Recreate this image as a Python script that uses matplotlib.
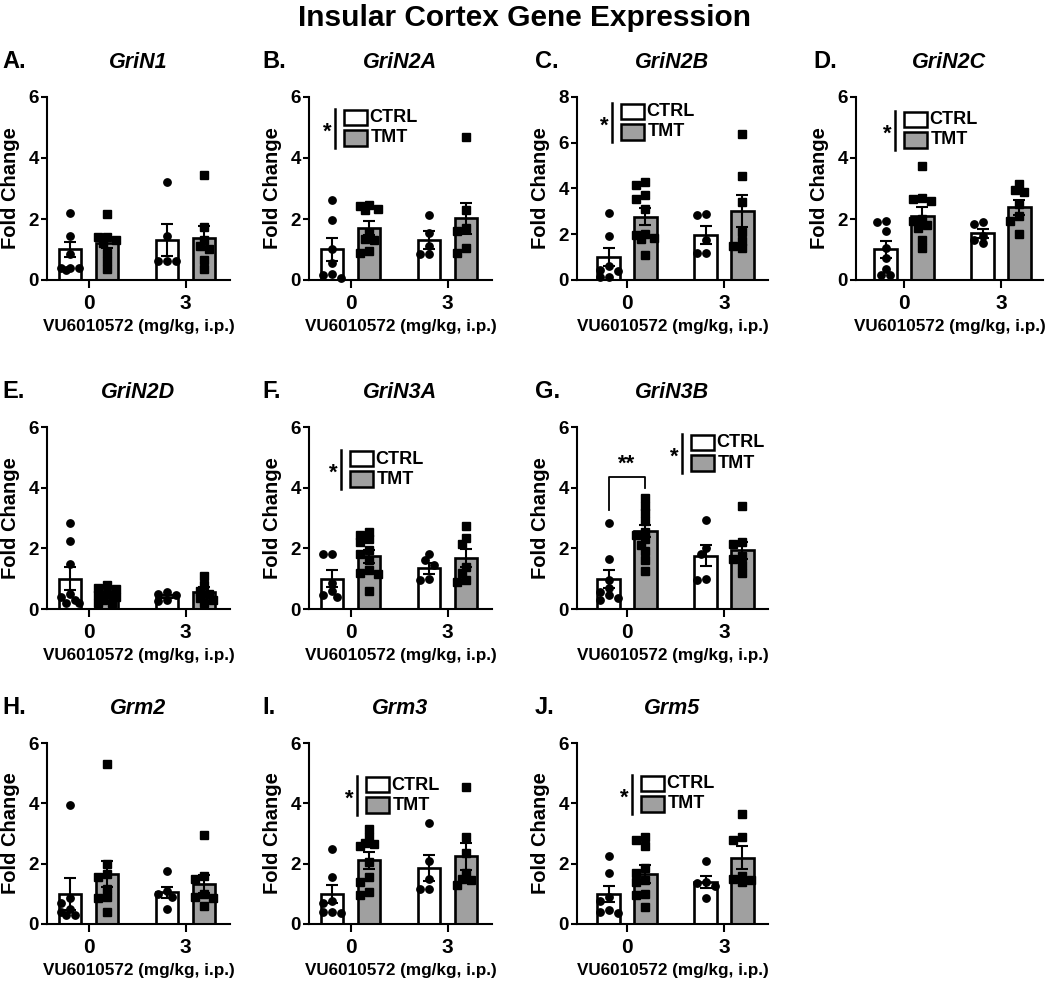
import numpy as np
import matplotlib
matplotlib.use("Agg")
import matplotlib.pyplot as plt
from matplotlib.patches import Rectangle
from matplotlib.lines import Line2D

plt.rcParams["font.family"] = ["Liberation Sans", "DejaVu Sans"]
plt.rcParams["font.weight"] = "bold"

W, H = 1050, 983
GRAY = "#a0a0a0"

# ---------------------------------------------------------------- data
doses = ["0", "3"]
groups = ["CTRL", "TMT"]
genes = ["GriN1", "GriN2A", "GriN2B", "GriN2C", "GriN2D",
         "GriN3A", "GriN3B", "Grm2", "Grm3", "Grm5"]
letters = ["A.", "B.", "C.", "D.", "E.", "F.", "G.", "H.", "I.", "J."]

# order in each list: CTRL 0, TMT 0, CTRL 3, TMT 3
grin1_mean = [1.0, 1.2, 1.31, 1.37]
grin1_sem = [0.25, 0.16, 0.52, 0.40]
grin1_pts = [[2.21, 1.45, 0.85, 0.38, 0.38, 0.40, 0.33],
             [2.16, 1.42, 1.40, 1.32, 1.20, 0.90, 0.62, 0.35],
             [3.21, 1.45, 0.62, 0.62, 0.62],
             [3.45, 1.75, 1.30, 1.10, 1.00, 0.65, 0.35]]

grin2a_mean = [1.0, 1.7, 1.3, 2.02]
grin2a_sem = [0.37, 0.22, 0.30, 0.50]
grin2a_pts = [[2.62, 1.97, 1.00, 0.55, 0.20, 0.15, 0.05],
              [2.45, 2.42, 2.32, 2.30, 1.55, 1.35, 1.30, 0.95, 0.88],
              [2.12, 1.55, 1.10, 0.85, 0.85],
              [4.69, 2.30, 1.70, 1.60, 1.05, 0.90]]

grin2b_mean = [1.0, 2.77, 1.98, 3.02]
grin2b_sem = [0.40, 0.38, 0.40, 0.70]
grin2b_pts = [[2.95, 1.94, 0.60, 0.45, 0.40, 0.15, 0.15],
              [4.30, 4.15, 3.70, 3.55, 3.10, 2.00, 1.95, 1.85, 1.80, 1.10],
              [2.90, 2.85, 1.75, 1.20, 1.20],
              [6.39, 4.55, 3.40, 2.10, 1.70, 1.50, 1.40]]

grin2c_mean = [1.0, 2.1, 1.53, 2.38]
grin2c_sem = [0.28, 0.28, 0.15, 0.25]
grin2c_pts = [[1.93, 1.90, 1.62, 1.05, 0.72, 0.35, 0.15, 0.15],
              [3.75, 2.70, 2.65, 2.60, 2.00, 1.95, 1.80, 1.70, 1.30, 1.05],
              [1.90, 1.85, 1.45, 1.30, 1.20],
              [3.15, 2.95, 2.90, 2.50, 2.10, 1.95, 1.50]]

grin2d_mean = [1.0, 0.47, 0.40, 0.56]
grin2d_sem = [0.37, 0.10, 0.05, 0.15]
grin2d_pts = [[2.84, 2.23, 1.50, 0.50, 0.40, 0.30, 0.20, 0.20],
              [0.80, 0.70, 0.65, 0.50, 0.45, 0.40, 0.30, 0.20, 0.20],
              [0.55, 0.50, 0.45, 0.30, 0.25],
              [1.10, 0.80, 0.60, 0.50, 0.35, 0.30, 0.20]]

grin3a_mean = [1.0, 1.74, 1.35, 1.68]
grin3a_sem = [0.28, 0.22, 0.18, 0.30]
grin3a_pts = [[1.81, 1.81, 0.85, 0.60, 0.45, 0.40],
              [2.55, 2.45, 2.30, 2.20, 1.95, 1.80, 1.60, 1.30, 1.20, 1.15, 0.60],
              [1.80, 1.60, 1.45, 1.00, 0.95],
              [2.75, 2.35, 2.15, 1.40, 1.20, 0.95, 0.90]]

grin3b_mean = [1.0, 2.56, 1.76, 1.93]
grin3b_sem = [0.30, 0.20, 0.35, 0.28]
grin3b_pts = [[2.85, 1.65, 0.95, 0.70, 0.55, 0.45, 0.35, 0.30],
              [3.65, 3.40, 3.15, 2.90, 2.55, 2.45, 2.30, 2.10, 1.90, 1.60, 1.25],
              [2.95, 2.00, 1.80, 1.00, 0.95],
              [3.40, 2.20, 2.15, 1.75, 1.65, 1.45, 1.20]]

grm2_mean = [1.0, 1.66, 1.05, 1.34]
grm2_sem = [0.52, 0.42, 0.18, 0.30]
grm2_pts = [[3.95, 0.85, 0.70, 0.50, 0.40, 0.30, 0.30],
            [5.30, 2.00, 1.65, 1.55, 1.15, 0.90, 0.85, 0.40],
            [1.75, 1.10, 1.00, 0.90, 0.50],
            [2.95, 1.58, 1.50, 1.00, 0.90, 0.85, 0.60]]

grm3_mean = [1.0, 2.11, 1.86, 2.24]
grm3_sem = [0.30, 0.28, 0.43, 0.44]
grm3_pts = [[2.50, 1.55, 0.75, 0.70, 0.40, 0.40, 0.35],
            [3.15, 2.90, 2.70, 2.65, 2.60, 2.05, 1.55, 1.40, 1.05, 0.95],
            [3.35, 2.10, 1.50, 1.15, 1.15],
            [4.55, 2.90, 2.35, 1.70, 1.50, 1.45, 1.30]]

grm5_mean = [1.0, 1.66, 1.38, 2.19]
grm5_sem = [0.27, 0.30, 0.20, 0.38]
grm5_pts = [[2.25, 1.70, 0.90, 0.75, 0.45, 0.40, 0.35],
            [2.90, 2.80, 2.60, 1.85, 1.70, 1.45, 1.40, 1.00, 0.95, 0.55],
            [2.10, 1.40, 1.35, 1.25, 0.85],
            [3.65, 2.90, 2.80, 1.60, 1.50, 1.45, 1.40]]

all_means = [grin1_mean, grin2a_mean, grin2b_mean, grin2c_mean, grin2d_mean,
             grin3a_mean, grin3b_mean, grm2_mean, grm3_mean, grm5_mean]
all_sems = [grin1_sem, grin2a_sem, grin2b_sem, grin2c_sem, grin2d_sem,
            grin3a_sem, grin3b_sem, grm2_sem, grm3_sem, grm5_sem]
all_pts = [grin1_pts, grin2a_pts, grin2b_pts, grin2c_pts, grin2d_pts,
           grin3a_pts, grin3b_pts, grm2_pts, grm3_pts, grm5_pts]
y_max = [6, 6, 8, 6, 6, 6, 6, 6, 6, 6]

# ---------------------------------------------------------------- layout (pixels)
cols = [(47, 183, -0.43), (309, 183, -0.43), (577, 191, -0.515), (856, 187, -0.495)]
rows = [(97, 183), (427, 182), (743, 181)]
cells = [(0, 0), (0, 1), (0, 2), (0, 3), (1, 0), (1, 1), (1, 2), (2, 0), (2, 1), (2, 2)]
letter_x = [2, 262, 535, 813]
# legend anchor (top of the vertical line) in figure pixels, None = no legend
legend_at = [None, (335, 109), (612, 103), (895, 111), None,
             (341, 450), (682, 434), None, (357, 776), (632, 775)]
GROUP_PX = 97.0


def spread(vals, ppu, step=4.5, mindist=6.8):
    # simple deterministic swarm so markers don't sit on top of each other
    placed, offs = [], []
    cands = [0, -step, step, -2 * step, 2 * step]
    for v in vals:
        y = v * ppu
        best, best_d = 0, -1
        for c in cands:
            d = min([np.hypot(c - px, y - py) for px, py in placed], default=99)
            if d >= mindist:
                best = c
                break
            if d > best_d:
                best, best_d = c, d
        placed.append((best, y))
        offs.append(best / GROUP_PX)
    return offs


def draw_legend(fig, lx, ly):
    tf = fig.transFigure
    fig.add_artist(Line2D([lx / W, lx / W], [1 - ly / H, 1 - (ly + 39) / H],
                          color="black", lw=1.8, transform=tf))
    fig.text((lx - 8) / W, 1 - (ly + 23) / H, "*", ha="center", va="center", fontsize=16)
    fig.add_artist(Rectangle(((lx + 9) / W, 1 - (ly + 16) / H), 23 / W, 15 / H,
                             fc="white", ec="black", lw=1.8, transform=tf))
    fig.add_artist(Rectangle(((lx + 9) / W, 1 - (ly + 37) / H), 23 / W, 16 / H,
                             fc=GRAY, ec="black", lw=1.8, transform=tf))
    fig.text((lx + 34) / W, 1 - (ly + 9) / H, "CTRL", va="center", fontsize=13)
    fig.text((lx + 36) / W, 1 - (ly + 29) / H, "TMT", va="center", fontsize=13)


fig = plt.figure(figsize=(W / 100, H / 100), dpi=100)
fig.text(0.5, 1 - 18 / H, "Insular Cortex Gene Expression", ha="center", va="center",
         fontsize=21.5, fontweight="bold")

for i, gene in enumerate(genes):
    r, c = cells[i]
    left, width, xmin = cols[c]
    top, height = rows[r]
    ax = fig.add_axes([left / W, 1 - (top + height) / H, width / W, height / H])
    ymax = y_max[i]
    ppu = height / ymax

    for g in range(4):
        dose = g // 2
        is_tmt = g % 2 == 1
        xc = dose + (0.19 if is_tmt else -0.19)
        ax.bar(xc, all_means[i][g], width=0.23, color=GRAY if is_tmt else "white",
               edgecolor="black", linewidth=1.9, zorder=2)
        ax.errorbar(xc, all_means[i][g], yerr=all_sems[i][g], fmt="none", ecolor="black",
                    elinewidth=1.5, capsize=4, capthick=1.5, zorder=3)
        vals = all_pts[i][g]
        offs = spread(vals, ppu)
        ax.plot(xc + np.array(offs), vals, linestyle="none",
                marker="s" if is_tmt else "o", markersize=5.3, color="black",
                zorder=4, clip_on=False)

    ax.set_xlim(xmin, xmin + width / GROUP_PX)
    ax.set_ylim(0, ymax)
    ax.set_yticks(np.arange(0, ymax + 1, 2))
    ax.set_xticks([0, 1])
    ax.set_xticklabels(doses)
    for s in ("top", "right"):
        ax.spines[s].set_visible(False)
    for s in ("left", "bottom"):
        ax.spines[s].set_linewidth(1.5)
    ax.tick_params(axis="y", length=4, width=1.5, pad=2, labelsize=13.5)
    ax.tick_params(axis="x", length=6, width=1.5, pad=4, labelsize=15)
    for lab in ax.get_xticklabels() + ax.get_yticklabels():
        lab.set_fontweight("bold")

    ax.set_ylabel("Fold Change", fontsize=14.5, fontweight="bold")
    ax.yaxis.set_label_coords(-27 / width, 0.5)
    ax.set_xlabel("VU6010572 (mg/kg, i.p.)", fontsize=12.3, fontweight="bold")
    ax.xaxis.set_label_coords(0.5, -39 / height)

    fig.text((left + width / 2) / W, 1 - (top - 35) / H, gene, ha="center", va="center",
             fontsize=15.5, fontweight="bold", style="italic")
    fig.text(letter_x[c] / W, 1 - (top - 35) / H, letters[i], ha="left", va="center",
             fontsize=17, fontweight="bold")

    if legend_at[i] is not None:
        draw_legend(fig, *legend_at[i])

    # GriN3B: CTRL vs TMT at dose 0
    if gene == "GriN3B":
        x1, x2 = -0.19, 0.19
        ax.plot([x1, x1, x2, x2], [3.25, 4.35, 4.35, 4.0], color="black", lw=1.3,
                zorder=5, clip_on=False)
        ax.text(0, 4.42, "**", ha="center", va="bottom", fontsize=16, fontweight="bold")

fig.savefig("out.png", dpi=100)
